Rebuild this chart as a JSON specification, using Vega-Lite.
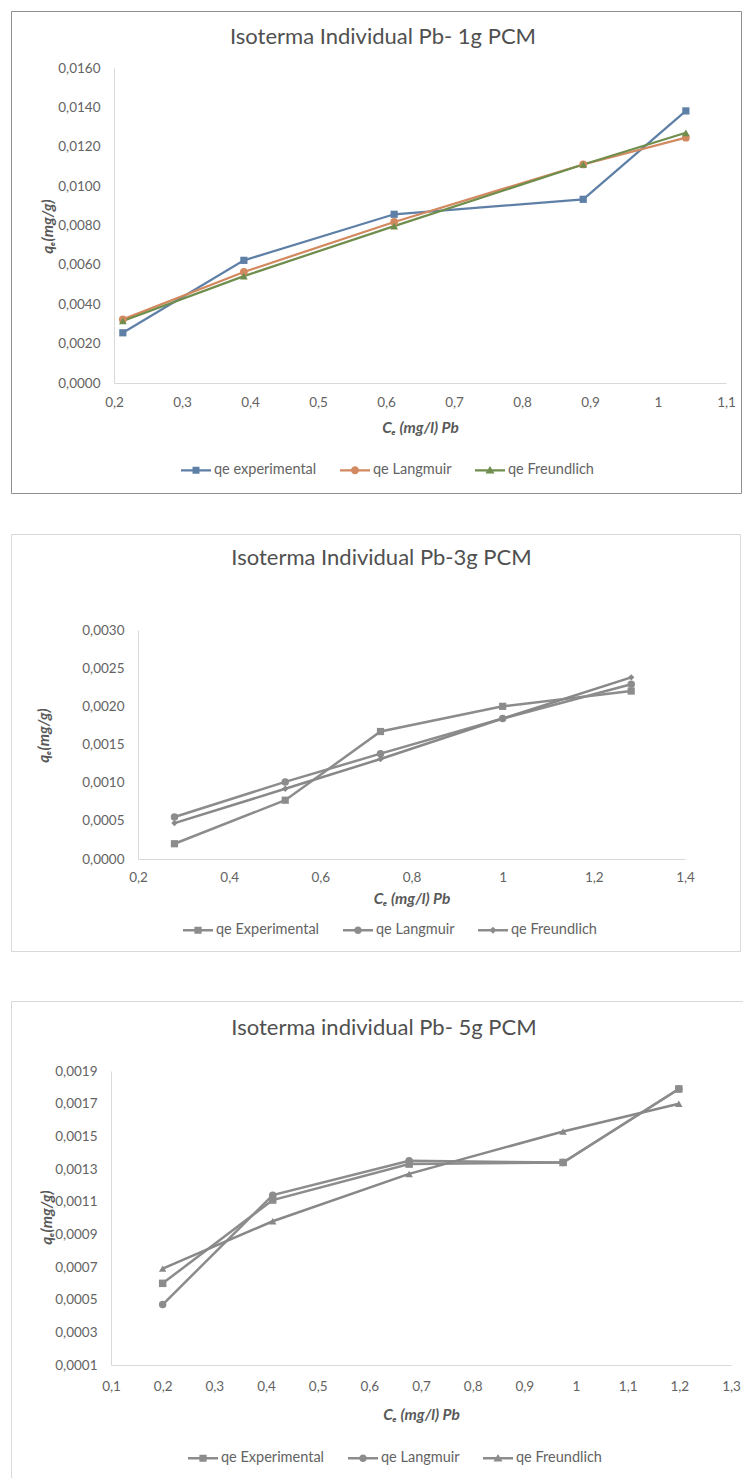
{
  "$schema": "https://vega.github.io/schema/vega-lite/v6.json",
  "padding": {"left": 10, "top": 10, "right": 0, "bottom": 0},
  "background": "white",
  "config": {
    "locale": {"number": {"decimal": ",", "thousands": ".", "grouping": [3], "currency": ["", " €"]}},
    "font": "Lato",
    "axis": {"ticks": false, "tickSize": 0, "grid": false, "domainColor": "#d9d9d9", "domainWidth": 1, "labelColor": "#636363", "labelFont": "Lato", "labelFontSize": 13.5, "labelFlush": false, "labelOverlap": false, "labelBound": false, "titleColor": "#595959", "titleFont": "Lato", "titleFontSize": 15.5, "titleFontWeight": "bold", "titleFontStyle": "italic"},
    "legend": {"labelFont": "Lato", "labelFontSize": 14.5, "labelColor": "#636363", "symbolSize": 900, "symbolStrokeWidth": 0, "labelOffset": 3, "padding": 0, "columnPadding": 23, "orient": "none", "direction": "horizontal"},
    "title": {"font": "Lato", "fontSize": 22, "fontWeight": "normal", "color": "#505050", "anchor": "middle", "frame": "group"}
  },
  "datasets": {
    "d": [
      {"panel": 1, "series": "qe experimental", "ce": 0.213, "qe": 0.00255},
      {"panel": 1, "series": "qe experimental", "ce": 0.391, "qe": 0.00623},
      {"panel": 1, "series": "qe experimental", "ce": 0.612, "qe": 0.00857},
      {"panel": 1, "series": "qe experimental", "ce": 0.89, "qe": 0.00933},
      {"panel": 1, "series": "qe experimental", "ce": 1.041, "qe": 0.01382},
      {"panel": 1, "series": "qe Langmuir", "ce": 0.213, "qe": 0.00323},
      {"panel": 1, "series": "qe Langmuir", "ce": 0.391, "qe": 0.00564},
      {"panel": 1, "series": "qe Langmuir", "ce": 0.612, "qe": 0.00818},
      {"panel": 1, "series": "qe Langmuir", "ce": 0.89, "qe": 0.0111},
      {"panel": 1, "series": "qe Langmuir", "ce": 1.041, "qe": 0.01246},
      {"panel": 1, "series": "qe Freundlich", "ce": 0.213, "qe": 0.00315},
      {"panel": 1, "series": "qe Freundlich", "ce": 0.391, "qe": 0.00543},
      {"panel": 1, "series": "qe Freundlich", "ce": 0.612, "qe": 0.00797},
      {"panel": 1, "series": "qe Freundlich", "ce": 0.89, "qe": 0.0111},
      {"panel": 1, "series": "qe Freundlich", "ce": 1.041, "qe": 0.01271},
      {"panel": 2, "series": "qe Experimental", "ce": 0.28, "qe": 0.0002},
      {"panel": 2, "series": "qe Experimental", "ce": 0.523, "qe": 0.00077},
      {"panel": 2, "series": "qe Experimental", "ce": 0.732, "qe": 0.00167},
      {"panel": 2, "series": "qe Experimental", "ce": 1.0, "qe": 0.002},
      {"panel": 2, "series": "qe Experimental", "ce": 1.282, "qe": 0.0022},
      {"panel": 2, "series": "qe Langmuir", "ce": 0.28, "qe": 0.00055},
      {"panel": 2, "series": "qe Langmuir", "ce": 0.523, "qe": 0.00101},
      {"panel": 2, "series": "qe Langmuir", "ce": 0.732, "qe": 0.00138},
      {"panel": 2, "series": "qe Langmuir", "ce": 1.0, "qe": 0.00184},
      {"panel": 2, "series": "qe Langmuir", "ce": 1.282, "qe": 0.00229},
      {"panel": 2, "series": "qe Freundlich", "ce": 0.28, "qe": 0.00047},
      {"panel": 2, "series": "qe Freundlich", "ce": 0.523, "qe": 0.00092},
      {"panel": 2, "series": "qe Freundlich", "ce": 0.732, "qe": 0.00131},
      {"panel": 2, "series": "qe Freundlich", "ce": 1.0, "qe": 0.00184},
      {"panel": 2, "series": "qe Freundlich", "ce": 1.282, "qe": 0.00238},
      {"panel": 3, "series": "qe Experimental", "ce": 0.2, "qe": 0.0006},
      {"panel": 3, "series": "qe Experimental", "ce": 0.413, "qe": 0.00111},
      {"panel": 3, "series": "qe Experimental", "ce": 0.677, "qe": 0.00133},
      {"panel": 3, "series": "qe Experimental", "ce": 0.975, "qe": 0.00134},
      {"panel": 3, "series": "qe Experimental", "ce": 1.199, "qe": 0.00179},
      {"panel": 3, "series": "qe Langmuir", "ce": 0.2, "qe": 0.00047},
      {"panel": 3, "series": "qe Langmuir", "ce": 0.413, "qe": 0.00114},
      {"panel": 3, "series": "qe Langmuir", "ce": 0.677, "qe": 0.00135},
      {"panel": 3, "series": "qe Langmuir", "ce": 0.975, "qe": 0.00134},
      {"panel": 3, "series": "qe Langmuir", "ce": 1.199, "qe": 0.00179},
      {"panel": 3, "series": "qe Freundlich", "ce": 0.2, "qe": 0.00069},
      {"panel": 3, "series": "qe Freundlich", "ce": 0.413, "qe": 0.00098},
      {"panel": 3, "series": "qe Freundlich", "ce": 0.677, "qe": 0.00127},
      {"panel": 3, "series": "qe Freundlich", "ce": 0.975, "qe": 0.00153},
      {"panel": 3, "series": "qe Freundlich", "ce": 1.199, "qe": 0.0017}
    ]
  },
  "spacing": 39,
  "resolve": {"scale": {"color": "independent"}, "legend": {"color": "independent"}},
  "vconcat": [
    {
      "width": 730,
      "height": 482,
      "view": {"stroke": "#8f8f8f", "strokeWidth": 1},
      "title": {"text": "Isoterma Individual Pb- 1g PCM", "offset": -38, "dx": 7},
      "data": {"name": "d"},
      "transform": [{"filter": "datum.panel === 1"}],
      "encoding": {
        "x": {"field": "ce", "type": "quantitative", "scale": {"domain": [0.2, 1.1], "range": [103, 715], "nice": false, "zero": false},
          "axis": {"values": [0.2, 0.3, 0.4, 0.5, 0.6, 0.7, 0.8, 0.9, 1.0, 1.1], "format": ".1~f", "offset": -110, "labelPadding": 12, "title": "Cₑ (mg/l) Pb", "titleY": 44, "titleBaseline": "middle"}},
        "y": {"field": "qe", "type": "quantitative", "scale": {"domain": [0, 0.016], "range": [372, 57], "nice": false, "zero": false},
          "axis": {"values": [0, 0.002, 0.004, 0.006, 0.008, 0.01, 0.012, 0.014, 0.016], "format": ".4f", "offset": -103, "labelPadding": 14, "title": "qₑ(mg/g)", "titleX": -67, "titleY": 215, "titleBaseline": "middle", "titleAngle": 270}}
      },
      "layer": [
        {"mark": {"type": "line", "strokeWidth": 2.25},
          "encoding": {
            "color": {"field": "series", "type": "nominal", "scale": {"domain": ["qe experimental", "qe Langmuir", "qe Freundlich"], "range": ["#5f80a6", "#d2895f", "#6f8e4d"]},
              "legend": {"title": null, "orient": "none", "legendX": 170, "legendY": 444, "direction": "horizontal",
                "encode": {"symbols": {"update": {"size": {"value": 900}, "strokeWidth": {"value": 0},
                  "fill": {"signal": "datum.value === 'qe experimental' ? '#5f80a6' : datum.value === 'qe Langmuir' ? '#d2895f' : '#6f8e4d'"},
                  "shape": {"signal": "datum.value === 'qe experimental' ? 'M-1,-0.075H1V0.075H-1Z M-0.233,-0.233H0.233V0.233H-0.233Z' : datum.value === 'qe Langmuir' ? 'M-1,-0.075H1V0.075H-1Z M-0.27,0A0.27,0.27 0 1,1 0.27,0A0.27,0.27 0 1,1 -0.27,0Z' : 'M-1,-0.075H1V0.075H-1Z M0,-0.28L0.3,0.22H-0.3Z'"}}}}}}}},
        {"transform": [{"filter": "datum.series === 'qe experimental'"}], "mark": {"type": "point", "filled": true, "opacity": 1, "size": 52, "shape": "square", "color": "#5f80a6"}},
        {"transform": [{"filter": "datum.series === 'qe Langmuir'"}], "mark": {"type": "point", "filled": true, "opacity": 1, "size": 60, "shape": "circle", "color": "#d2895f"}},
        {"transform": [{"filter": "datum.series === 'qe Freundlich'"}], "mark": {"type": "point", "filled": true, "opacity": 1, "size": 60, "shape": "triangle-up", "color": "#6f8e4d"}}
      ]
    },
    {
      "spacing": 48,
      "resolve": {"scale": {"color": "independent"}, "legend": {"color": "independent"}},
      "vconcat": [
        {
          "width": 729,
          "height": 417,
          "view": {"stroke": "#d9d9d9", "strokeWidth": 1},
          "title": {"text": "Isoterma Individual Pb-3g PCM", "offset": -36, "dx": 6},
          "data": {"name": "d"},
          "transform": [{"filter": "datum.panel === 2"}],
          "encoding": {
            "x": {"field": "ce", "type": "quantitative", "scale": {"domain": [0.2, 1.4], "range": [127, 674], "nice": false, "zero": false},
              "axis": {"values": [0.2, 0.4, 0.6, 0.8, 1.0, 1.2, 1.4], "format": ".1~f", "offset": -92, "labelPadding": 11, "title": "Cₑ (mg/l) Pb", "titleY": 39, "titleBaseline": "middle"}},
            "y": {"field": "qe", "type": "quantitative", "scale": {"domain": [0, 0.003], "range": [325, 96], "nice": false, "zero": false},
              "axis": {"values": [0, 0.0005, 0.001, 0.0015, 0.002, 0.0025, 0.003], "format": ".4f", "offset": -127, "labelPadding": 14, "title": "qₑ(mg/g)", "titleX": -95, "titleY": 201, "titleBaseline": "middle", "titleAngle": 270}}
          },
          "layer": [
            {"mark": {"type": "line", "strokeWidth": 2.5},
              "encoding": {
                "color": {"field": "series", "type": "nominal", "scale": {"domain": ["qe Experimental", "qe Langmuir", "qe Freundlich"], "range": ["#8c8c8c", "#8c8c8c", "#888888"]},
                  "legend": {"title": null, "orient": "none", "legendX": 172, "legendY": 381, "direction": "horizontal",
                    "encode": {"symbols": {"update": {"size": {"value": 900}, "strokeWidth": {"value": 0},
                      "fill": {"value": "#8c8c8c"},
                      "shape": {"signal": "datum.value === 'qe Experimental' ? 'M-1,-0.085H1V0.085H-1Z M-0.24,-0.24H0.24V0.24H-0.24Z' : datum.value === 'qe Langmuir' ? 'M-1,-0.085H1V0.085H-1Z M-0.25,0A0.25,0.25 0 1,1 0.25,0A0.25,0.25 0 1,1 -0.25,0Z' : 'M-1,-0.085H1V0.085H-1Z M0,-0.24L0.24,0L0,0.24L-0.24,0Z'"}}}}}}}},
            {"transform": [{"filter": "datum.series === 'qe Experimental'"}], "mark": {"type": "point", "filled": true, "opacity": 1, "size": 52, "shape": "square", "color": "#8c8c8c"}},
            {"transform": [{"filter": "datum.series === 'qe Langmuir'"}], "mark": {"type": "point", "filled": true, "opacity": 1, "size": 56, "shape": "circle", "color": "#8c8c8c"}},
            {"transform": [{"filter": "datum.series === 'qe Freundlich'"}], "mark": {"type": "point", "filled": true, "opacity": 1, "size": 40, "shape": "diamond", "color": "#888888"}}
          ]
        },
        {
          "width": 740,
          "height": 490,
          "view": {"stroke": "#d9d9d9", "strokeWidth": 1},
          "title": {"text": "Isoterma individual Pb- 5g PCM", "offset": -39, "dx": 3},
          "data": {"name": "d"},
          "transform": [{"filter": "datum.panel === 3"}],
          "encoding": {
            "x": {"field": "ce", "type": "quantitative", "scale": {"domain": [0.1, 1.3], "range": [100, 720], "nice": false, "zero": false},
              "axis": {"values": [0.1, 0.2, 0.3, 0.4, 0.5, 0.6, 0.7, 0.8, 0.9, 1.0, 1.1, 1.2, 1.3], "format": ".1~f", "offset": -126, "labelPadding": 14, "title": "Cₑ (mg/l) Pb", "titleY": 49, "titleBaseline": "middle"}},
            "y": {"field": "qe", "type": "quantitative", "scale": {"domain": [0.0001, 0.0019], "range": [364, 70], "nice": false, "zero": false},
              "axis": {"values": [0.0001, 0.0003, 0.0005, 0.0007, 0.0009, 0.0011, 0.0013, 0.0015, 0.0017, 0.0019], "format": ".4f", "offset": -100, "labelPadding": 14, "title": "qₑ(mg/g)", "titleX": -65, "titleY": 216, "titleBaseline": "middle", "titleAngle": 270}}
          },
          "layer": [
            {"mark": {"type": "line", "strokeWidth": 2.5},
              "encoding": {
                "color": {"field": "series", "type": "nominal", "scale": {"domain": ["qe Experimental", "qe Langmuir", "qe Freundlich"], "range": ["#8c8c8c", "#8c8c8c", "#888888"]},
                  "legend": {"title": null, "orient": "none", "legendX": 177, "legendY": 442, "direction": "horizontal",
                    "encode": {"symbols": {"update": {"size": {"value": 900}, "strokeWidth": {"value": 0},
                      "fill": {"value": "#8c8c8c"},
                      "shape": {"signal": "datum.value === 'qe Experimental' ? 'M-1,-0.085H1V0.085H-1Z M-0.24,-0.24H0.24V0.24H-0.24Z' : datum.value === 'qe Langmuir' ? 'M-1,-0.085H1V0.085H-1Z M-0.25,0A0.25,0.25 0 1,1 0.25,0A0.25,0.25 0 1,1 -0.25,0Z' : 'M-1,-0.085H1V0.085H-1Z M0,-0.28L0.3,0.22H-0.3Z'"}}}}}}}},
            {"transform": [{"filter": "datum.series === 'qe Experimental'"}], "mark": {"type": "point", "filled": true, "opacity": 1, "size": 56, "shape": "square", "color": "#8c8c8c"}},
            {"transform": [{"filter": "datum.series === 'qe Langmuir'"}], "mark": {"type": "point", "filled": true, "opacity": 1, "size": 56, "shape": "circle", "color": "#8c8c8c"}},
            {"transform": [{"filter": "datum.series === 'qe Freundlich'"}], "mark": {"type": "point", "filled": true, "opacity": 1, "size": 56, "shape": "triangle-up", "color": "#888888"}}
          ]
        }
      ]
    }
  ]
}
